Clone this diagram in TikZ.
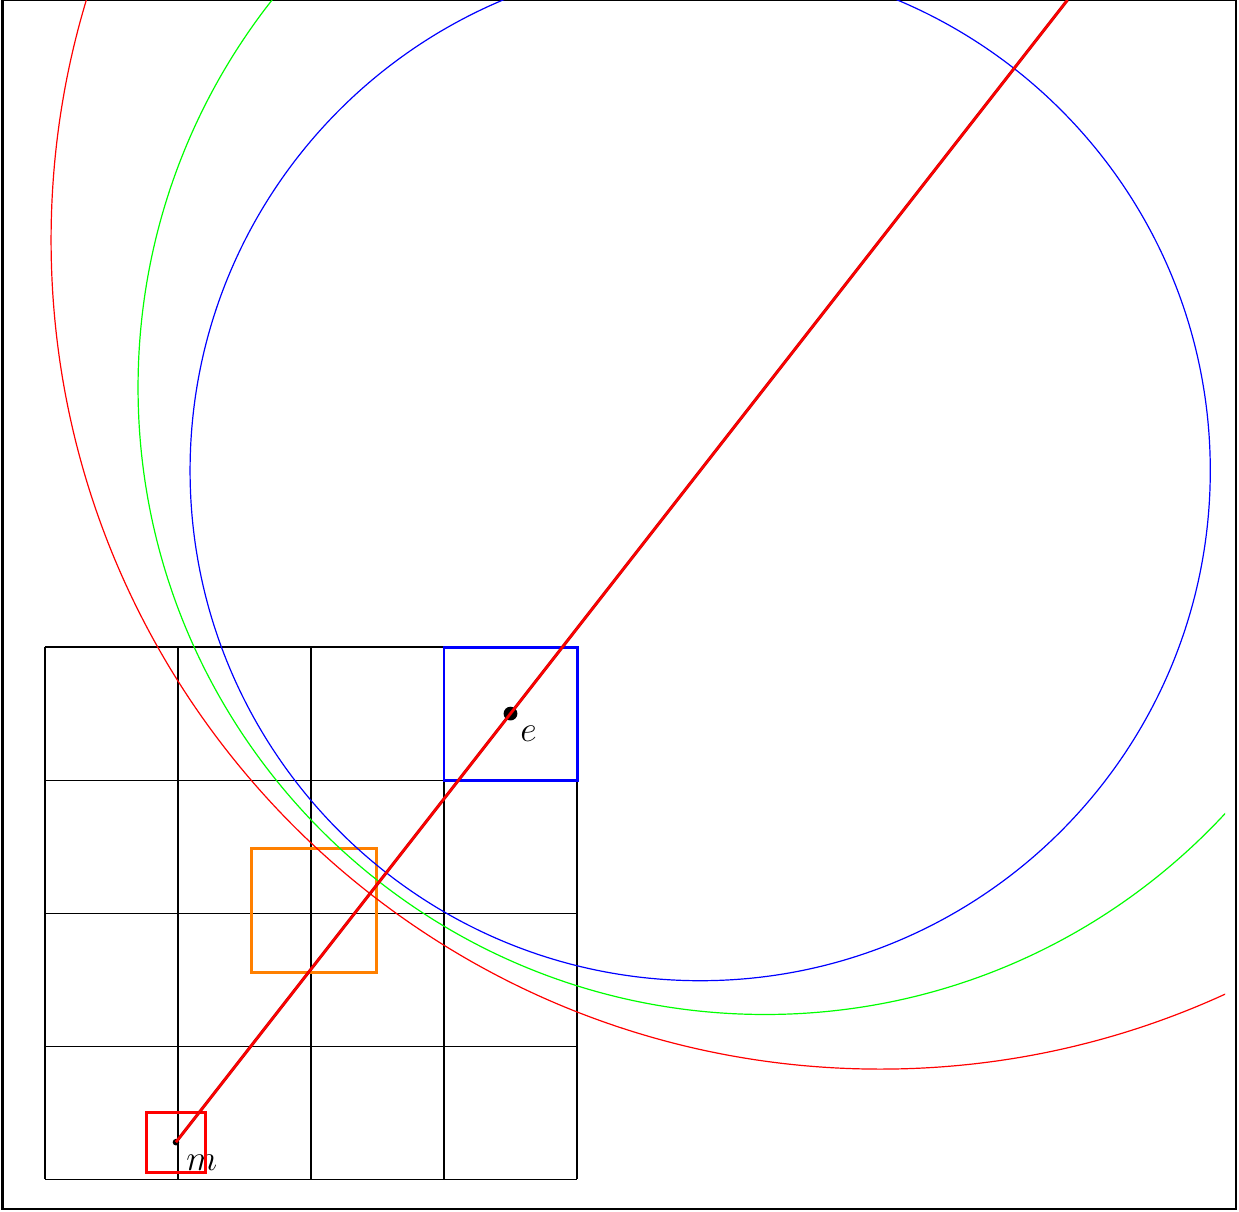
\documentclass[tikz,border=0pt]{standalone}
\usepackage{xcolor}
\usepackage{tikz}
\usetikzlibrary{calc, positioning}
\definecolor{cellorange}{RGB}{255, 128, 0}

\tikzset{
    cellbox/.style={line width=1pt},
    dotnode/.style={circle, fill=black, inner sep=0pt, minimum size=#1},
    ptlabel/.style={font=\large},
}

\begin{document}
\begin{tikzpicture}[x=1.56cm, y=1.56cm]
    \useasboundingbox (-0.338,-0.241) rectangle (8.977,8.865);
    \draw[line width=0.9pt] (-0.32,-0.225) rectangle (8.955,8.865);

    % grid of cells
    \foreach \i in {0,...,4} {
        \draw[line width=0.4pt] (\i,0) -- (\i,4);
        \draw[line width=0.4pt] (0,\i) -- (4,\i);
    }

    % points
    \node[dotnode=2.2pt] (m) at (0.985,0.278) {};
    \node[dotnode=4.6pt] (e) at (3.5,3.5) {};
    \node[ptlabel, below right=0pt and -1pt of m] (mlabel) {$m$};
    \node[ptlabel, below right=-1pt and -2pt of e] (elabel) {$e$};

    % boxes
    \draw[cellbox, red] ($(m)+(-0.225,-0.225)$) rectangle ($(m)+(0.225,0.225)$);
    \draw[cellbox, cellorange] (1.556,1.556) rectangle (2.496,2.489);
    \draw[cellbox, blue] (3,3) rectangle (4,4);

    % circles along the ray
    \coordinate (cblue) at ($(m)!1.567!(e)$);
    \coordinate (cgreen) at ($(m)!1.761!(e)$);
    \coordinate (cred) at ($(m)!2.105!(e)$);
    \coordinate (rayend) at ($(m)!2.665!(e)$);
    \begin{scope}
        \clip (-0.338,-0.241) rectangle (8.872,8.865);
        \draw[blue, line width=0.4pt] (cblue) circle (3.835);
        \draw[green, line width=0.4pt] (cgreen) circle (4.714);
        \draw[red, line width=0.4pt] (cred) circle (6.233);
    \end{scope}

    % ray
    \draw[red!80!black, line width=1pt] (m.center) -- (rayend);
    \draw[red, line width=0.6pt] (m.center) -- (rayend);
\end{tikzpicture}
\end{document}
